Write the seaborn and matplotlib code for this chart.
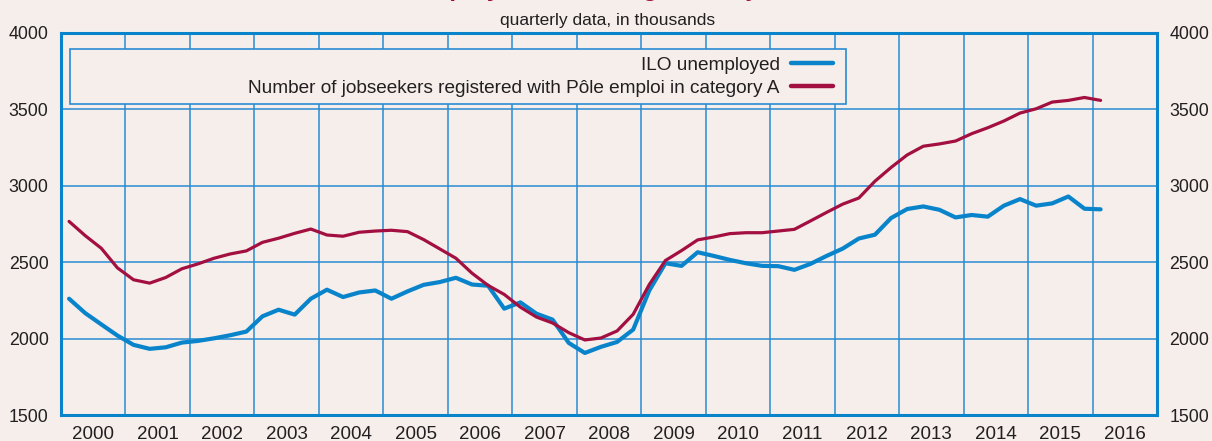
import numpy as np
import pandas as pd
import matplotlib
matplotlib.use("Agg")
import matplotlib.pyplot as plt
import matplotlib.patches as mpatches
import seaborn as sns

# quarterly data, 2000Q1 .. 2016Q1, in thousands
first_year = 2000
years = list(range(2000, 2017))

ilo_unemployed = [
    2261, 2167, 2093, 2020, 1959, 1933, 1943, 1974, 1985, 2002, 2022, 2046,
    2146, 2189, 2157, 2261, 2320, 2272, 2302, 2315, 2261, 2309, 2352, 2370,
    2398, 2354, 2346, 2196, 2237, 2163, 2124, 1972, 1906, 1946, 1978, 2059,
    2315, 2493, 2476, 2565, 2541, 2515, 2493, 2476, 2474, 2450, 2489, 2541,
    2589, 2655, 2680, 2789, 2848, 2865, 2843, 2793, 2809, 2798, 2870, 2913,
    2870, 2885, 2930, 2850, 2846,
]
pole_emploi_a = [
    2767, 2674, 2591, 2463, 2385, 2363, 2400, 2457, 2489, 2526, 2554, 2574,
    2630, 2657, 2689, 2717, 2678, 2670, 2696, 2704, 2709, 2700, 2648, 2587,
    2526, 2428, 2348, 2289, 2206, 2141, 2102, 2039, 1991, 2004, 2050, 2159,
    2354, 2511, 2576, 2646, 2665, 2687, 2693, 2693, 2704, 2715, 2770, 2826,
    2880, 2920, 3030, 3120, 3202, 3259, 3274, 3293, 3341, 3380, 3424, 3476,
    3504, 3548, 3559, 3578, 3559,
]
labels = ["ILO unemployed",
          "Number of jobseekers registered with Pôle emploi in category A"]

BG = "#f5eeeb"
BLUE = "#0984cb"
RED = "#a20f40"
GRID = "#2a8bd2"
TXT = "#231f20"

"""
build a long table
"""
def load_data():
    n = len(ilo_unemployed)
    date = first_year + (np.arange(n) + 0.5) / 4
    df = pd.DataFrame({
        "date": np.concatenate([date, date]),
        "value": ilo_unemployed + pole_emploi_a,
        "series": [labels[0]] * n + [labels[1]] * n,
    })
    return df


def plot_chart(df):
    sns.set_style("white")
    plt.rcParams["font.family"] = ["Liberation Sans", "DejaVu Sans"]

    fig = plt.figure(figsize=(12.12, 4.41), dpi=100, facecolor=BG)
    ax = fig.add_axes([61 / 1212, 26 / 441, 1096 / 1212, 382 / 441])
    ax.set_facecolor(BG)

    sns.lineplot(data=df[df.series == labels[0]], x="date", y="value",
                 color=BLUE, linewidth=3.0, label=labels[0], ax=ax, zorder=3)
    sns.lineplot(data=df[df.series == labels[1]], x="date", y="value",
                 color=RED, linewidth=2.3, label=labels[1], ax=ax, zorder=4)

    ax.set_xlim(2000, 2017)
    ax.set_ylim(1500, 4000)
    ax.set_xticks(years + [2017])
    ax.set_xticklabels([])
    ax.set_xticks([y + 0.5 for y in years], minor=True)
    ax.set_xticklabels([str(y) for y in years], minor=True)
    ax.set_yticks([1500, 2000, 2500, 3000, 3500, 4000])
    ax.tick_params(axis="both", which="both", length=0, colors=TXT)
    ax.tick_params(axis="x", which="minor", pad=8, labelsize=13.5)
    ax.tick_params(axis="y", pad=9, labelright=True, labelsize=12.8)
    ax.grid(True, which="major", color=GRID, linewidth=1.1)
    ax.set_axisbelow(True)
    for s in ax.spines.values():
        s.set_visible(True)
        s.set_color(BLUE)
        s.set_linewidth(2.2)
    ax.set_xlabel("")
    ax.set_ylabel("")

    # legend box
    box = mpatches.Rectangle((9 / 1096, 311 / 382), 776 / 1096, 55 / 382,
                             transform=ax.transAxes, facecolor=BG,
                             edgecolor=GRID, linewidth=1.2, zorder=5)
    ax.add_patch(box)
    leg = ax.legend(loc="center right", bbox_to_anchor=(772 / 1096, 338.5 / 382),
                    frameon=False, markerfirst=False, fontsize=13.7,
                    handlelength=2.2, handletextpad=0.6, labelspacing=0.3,
                    borderpad=0, borderaxespad=0)
    leg.set_zorder(6)
    for t in leg.get_texts():
        t.set_color(TXT)
    for h in leg.get_lines():
        h.set_linewidth(3.2)

    fig.text(608 / 1212, 1 - 20 / 441, "quarterly data, in thousands",
             ha="center", va="center", fontsize=12.5, color=TXT)
    fig.text(0.5, 1 + 4 / 441, "ILO unemployment and registered jobseekers",
             ha="center", va="baseline", fontsize=18, fontweight="bold",
             color=RED)

    fig.savefig("out.png", dpi=100, facecolor=BG)


if __name__ == '__main__':
    df = load_data()
    plot_chart(df)
